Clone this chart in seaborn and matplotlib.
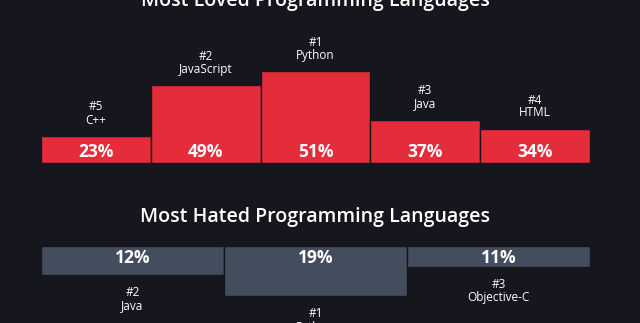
import matplotlib
matplotlib.use("Agg")
import matplotlib.pyplot as plt
import seaborn as sns
import pandas as pd

# ---- data ----
loved_langs = ["C++", "JavaScript", "Python", "Java", "HTML"]
loved_ranks = ["#5", "#2", "#1", "#3", "#4"]
loved_pct = [23, 49, 51, 37, 34]
loved_heights = [27, 78, 92, 43, 34]      # drawn bar heights (px) as seen

hated_langs = ["Java", "Python", "Objective-C"]
hated_ranks = ["#2", "#1", "#3"]
hated_pct = [12, 19, 11]
hated_heights = [29, 50, 21]              # drawn bar heights (px) as seen

BG = "#16161e"
RED = "#e42c3a"
SLATE = "#434d5e"
W, H = 640, 323

sns.set_theme(style="white")
plt.rcParams["font.family"] = ["Open Sans", "DejaVu Sans"]

fig = plt.figure(figsize=(W / 100, H / 100), dpi=100, facecolor=BG)

def px_axes(left, top, width, height):
    return fig.add_axes([left / W, (H - top - height) / H, width / W, height / H])

LBL = 8.5
PCT = 12.5

# ---- top chart: Most Loved ----
ax1 = px_axes(41, 63, 549, 100)
df1 = pd.DataFrame({"lang": loved_langs, "h": loved_heights})
sns.barplot(data=df1, x="lang", y="h", color=RED, saturation=1, width=1,
            edgecolor=BG, linewidth=1.0, ax=ax1)
ax1.set_xlim(-0.5, len(loved_langs) - 0.5)
ax1.set_ylim(0, 100)
for i, (h, p, r, n) in enumerate(zip(loved_heights, loved_pct, loved_ranks, loved_langs)):
    ax1.text(i, 11, f"{p}%", color="white", ha="center", va="center",
             fontsize=PCT, fontweight="bold", clip_on=False)
    ax1.text(i, h + 16, n, color="white", ha="center", va="center",
             fontsize=LBL, clip_on=False)
    ax1.text(i, h + 29, r, color="white", ha="center", va="center",
             fontsize=LBL, clip_on=False)

# ---- bottom chart: Most Hated ----
ax2 = px_axes(41, 246, 549, 60)
df2 = pd.DataFrame({"lang": hated_langs, "h": hated_heights})
sns.barplot(data=df2, x="lang", y="h", color=SLATE, saturation=1, width=1,
            edgecolor=BG, linewidth=1.0, ax=ax2)
ax2.set_xlim(-0.5, len(hated_langs) - 0.5)
ax2.set_ylim(60, 0)
for i, (h, p, r, n) in enumerate(zip(hated_heights, hated_pct, hated_ranks, hated_langs)):
    ax2.text(i, 12, f"{p}%", color="white", ha="center", va="center",
             fontsize=PCT, fontweight="bold", clip_on=False)
    ax2.text(i, h + 17.5, r, color="white", ha="center", va="center",
             fontsize=LBL, clip_on=False)
    ax2.text(i, h + 31, n, color="white", ha="center", va="center",
             fontsize=LBL, clip_on=False)

for ax in (ax1, ax2):
    ax.set_facecolor("none")
    ax.axis("off")

fig.text(315 / W, (H - 6) / H, "Most Loved Programming Languages", color="white",
         ha="center", va="baseline", fontsize=14, fontweight="semibold")
fig.text(315 / W, (H - 222) / H, "Most Hated Programming Languages", color="white",
         ha="center", va="baseline", fontsize=14, fontweight="semibold")

fig.savefig("out.png", dpi=100, facecolor=BG)
